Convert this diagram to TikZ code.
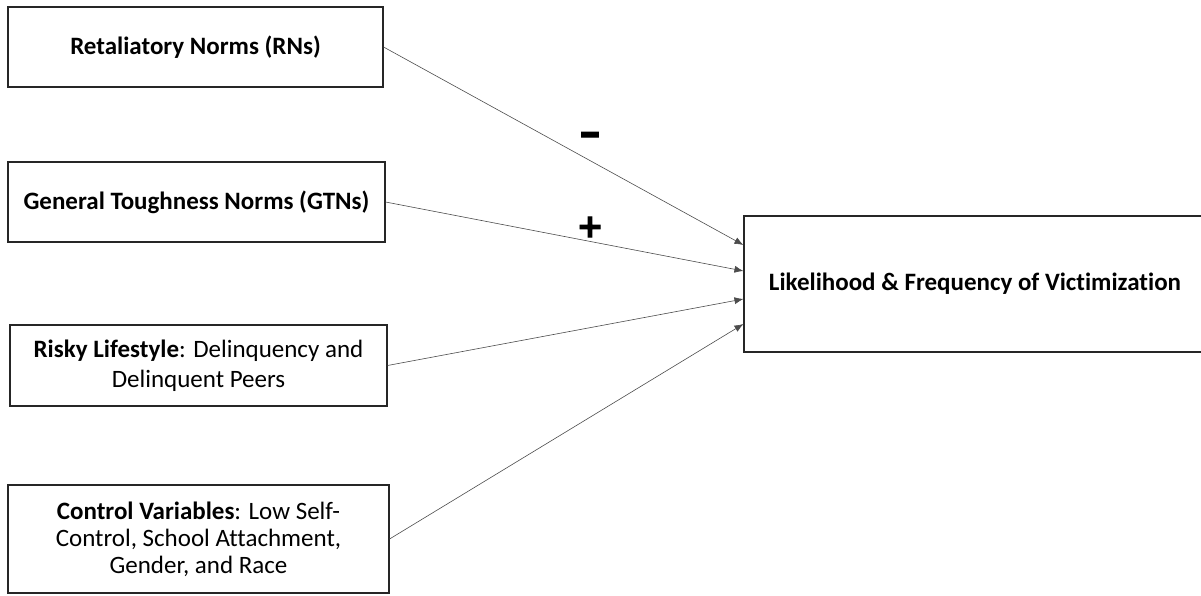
\documentclass[tikz,border=0pt]{standalone}
\usepackage{fontspec}
\setmainfont{Carlito}[Ligatures=NoCommon]
\newfontfamily\signfont{DejaVu Sans}[BoldFeatures={FakeBold=3}]
\usetikzlibrary{arrows.meta}
\begin{document}
\begin{tikzpicture}[x=1pt,y=-1pt,
  every node/.style={font=\fontsize{25}{29}\selectfont},
  factor/.style={draw=black!85, line width=1.1pt, align=center, inner sep=0pt},
  link/.style={draw=black!70, line width=0.6pt, -{Latex[length=9pt,width=7pt]}},
  sign/.style={font=\signfont\bfseries\fontsize{26}{26}\selectfont, inner sep=0pt}]
\useasboundingbox (0,0) rectangle (1201,596);
\begin{scope}
\clip (0,0) rectangle (1201,596);
\node[factor, minimum width=375pt, minimum height=80pt] (rn) at (195.5,47) {\textbf{Retaliatory Norms (RNs)}};
\node[factor, minimum width=377pt, minimum height=80pt] (gtn) at (196.5,202) {\textbf{General Toughness Norms (GTNs)}};
\node[factor, minimum width=377pt, minimum height=81pt, font=\fontsize{25}{30}\selectfont] (risk) at (198.5,365.5) {\textbf{Risky Lifestyle}: Delinquency and\\Delinquent Peers};
\node[factor, minimum width=381pt, minimum height=108pt, font=\fontsize{25}{27}\selectfont] (ctrl) at (198.5,539) {\textbf{Control Variables}: Low Self-\\Control, School Attachment,\\Gender, and Race};
\node[factor, minimum width=462pt, minimum height=136pt, font=\fontsize{25}{29}\bfseries\selectfont] (vict) at (975,284) {Likelihood \& Frequency of Victimization};
\end{scope}
\draw[link] (rn.east) -- ([yshift=39pt]vict.west);
\draw[link] (gtn.east) -- ([yshift=13pt]vict.west);
\draw[link] (risk.east) -- ([yshift=-15pt]vict.west);
\draw[link] (ctrl.east) -- ([yshift=-40pt]vict.west);
\node[sign] (neg) at (590,140) {\scalebox{1.05}[1.6]{−}};
\node[sign, font=\signfont\bfseries\fontsize{32}{32}\selectfont] (pos) at (590,227) {+};
\end{tikzpicture}
\end{document}
